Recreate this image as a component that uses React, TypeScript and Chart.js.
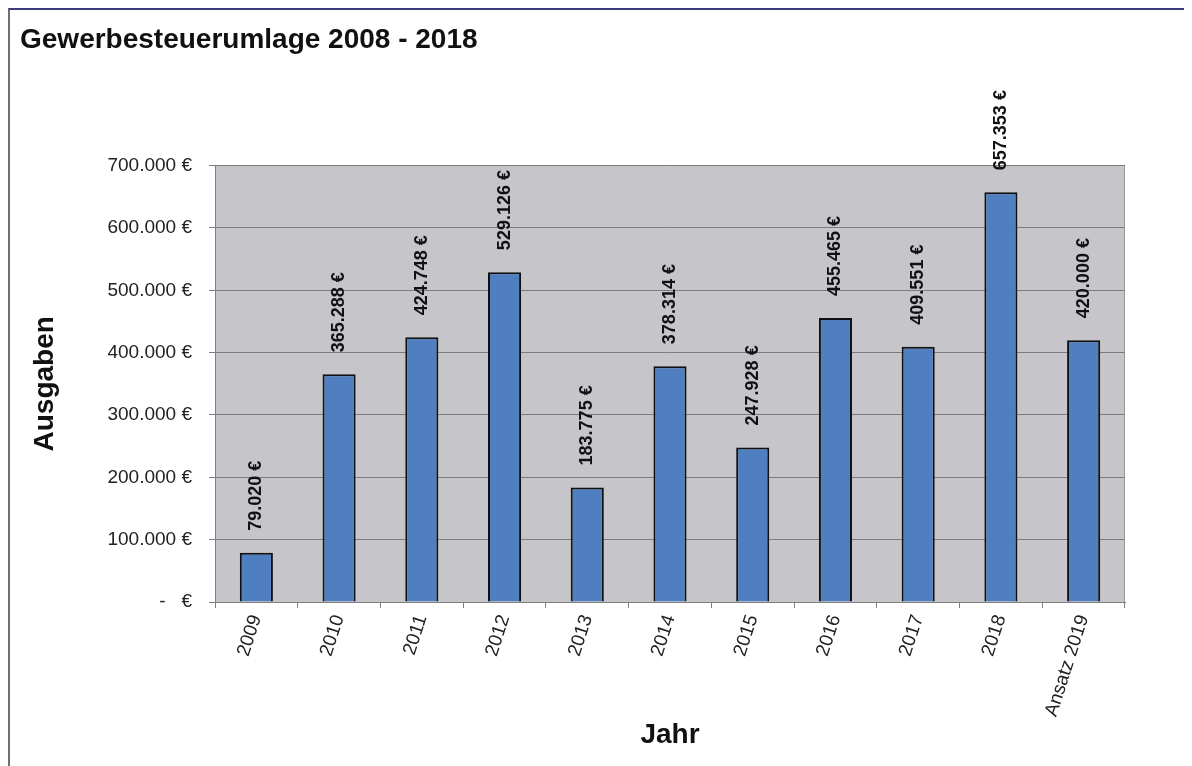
import React, { useEffect, useRef } from "react";
import { Chart, registerables } from "chart.js";

Chart.register(...registerables);

const titleText = "Gewerbesteuerumlage 2008 - 2018";
const categories = ["2009", "2010", "2011", "2012", "2013", "2014", "2015", "2016", "2017", "2018", "Ansatz 2019"];
const values = [79020, 365288, 424748, 529126, 183775, 378314, 247928, 455465, 409551, 657353, 420000];
const yTicks = [0, 100000, 200000, 300000, 400000, 500000, 600000, 700000];
const xTitle = "Jahr";
const yTitle = "Ausgaben";

const FONT = '"Liberation Sans", Arial, sans-serif';

function fmt(v: number): string {
  return String(Math.round(v)).replace(/\B(?=(\d{3})+(?!\d))/g, ".");
}

const bgPlugin = {
  id: "plotBg",
  beforeDraw(chart: any) {
    const { ctx, chartArea } = chart;
    if (!chartArea) return;
    ctx.save();
    ctx.fillStyle = "#c6c6ca";
    ctx.fillRect(chartArea.left, chartArea.top, chartArea.right - chartArea.left, chartArea.bottom - chartArea.top);
    ctx.strokeStyle = "#9a9aa0";
    ctx.lineWidth = 1;
    ctx.beginPath();
    ctx.moveTo(chartArea.right - 0.5, chartArea.top);
    ctx.lineTo(chartArea.right - 0.5, chartArea.bottom);
    ctx.stroke();
    ctx.restore();
  },
};

const labelPlugin = {
  id: "barLabels",
  afterDatasetsDraw(chart: any) {
    const { ctx } = chart;
    const meta = chart.getDatasetMeta(0);
    ctx.save();
    ctx.font = "bold 18px " + FONT;
    ctx.fillStyle = "#111";
    ctx.textAlign = "left";
    ctx.textBaseline = "middle";
    meta.data.forEach((bar: any, i: number) => {
      ctx.save();
      ctx.translate(bar.x, bar.y - 22);
      ctx.rotate(-Math.PI / 2);
      ctx.fillText(fmt(values[i]) + " \u20ac", 0, 0);
      ctx.restore();
    });
    ctx.restore();
  },
};

export default function App() {
  const ref = useRef<HTMLCanvasElement | null>(null);

  useEffect(() => {
    document.body.style.overflow = "hidden";
    if (!ref.current) return;
    const chart = new Chart(ref.current, {
      type: "bar",
      data: {
        labels: categories,
        datasets: [
          {
            data: values,
            backgroundColor: "#4f7fc0",
            borderColor: "#101010",
            borderWidth: 2,
            barPercentage: 0.4,
            categoryPercentage: 1,
          },
        ],
      },
      options: {
        responsive: false,
        animation: false,
        devicePixelRatio: 1,
        layout: { padding: { left: 10, right: 67, top: 0, bottom: 0 } },
        plugins: {
          legend: { display: false },
          tooltip: { enabled: false },
          title: {
            display: true,
            text: titleText,
            align: "start",
            color: "#111",
            font: { size: 28, weight: "bold", family: FONT },
            padding: { top: 13, bottom: 109 },
          },
        },
        scales: {
          x: {
            grid: { drawOnChartArea: false, drawTicks: true, tickLength: 6, color: "#808080" },
            border: { color: "#808080", width: 1 },
            ticks: {
              minRotation: 72,
              maxRotation: 72,
              autoSkip: false,
              color: "#222",
              padding: 4,
              font: { size: 19, family: FONT },
            },
            title: {
              display: true,
              text: xTitle,
              color: "#111",
              font: { size: 28, weight: "bold", family: FONT },
              padding: { top: 0, bottom: 26 },
            },
            afterFit: (s: any) => {
              s.height = 176;
            },
          },
          y: {
            min: 0,
            max: 700000,
            afterBuildTicks: (s: any) => {
              s.ticks = yTicks.map((v) => ({ value: v }));
            },
            ticks: {
              color: "#222",
              padding: 17,
              font: { size: 19, family: FONT },
              callback: (v: any) => (Number(v) === 0 ? "-\u00a0\u00a0\u00a0\u20ac" : fmt(Number(v)) + " \u20ac"),
            },
            grid: { color: "#7c7c80", tickLength: 6 },
            border: { color: "#808080", width: 1 },
            title: {
              display: true,
              text: yTitle,
              color: "#111",
              font: { size: 28, weight: "bold", family: FONT },
              padding: { top: 8, bottom: 0 },
            },
            afterFit: (s: any) => {
              s.width = 195;
            },
          },
        },
      } as any,
      plugins: [bgPlugin, labelPlugin],
    });
    return () => chart.destroy();
  }, []);

  return (
    <div
      style={{
        position: "relative",
        width: 1184,
        height: 770,
        boxSizing: "border-box",
        borderTop: "2px solid #3c3c78",
        borderLeft: "2px solid #707070",
        overflow: "hidden",
        background: "#fff",
      }}
    >
      <canvas ref={ref} width={1182} height={768} style={{ display: "block", width: 1182, height: 768 }} />
    </div>
  );
}
